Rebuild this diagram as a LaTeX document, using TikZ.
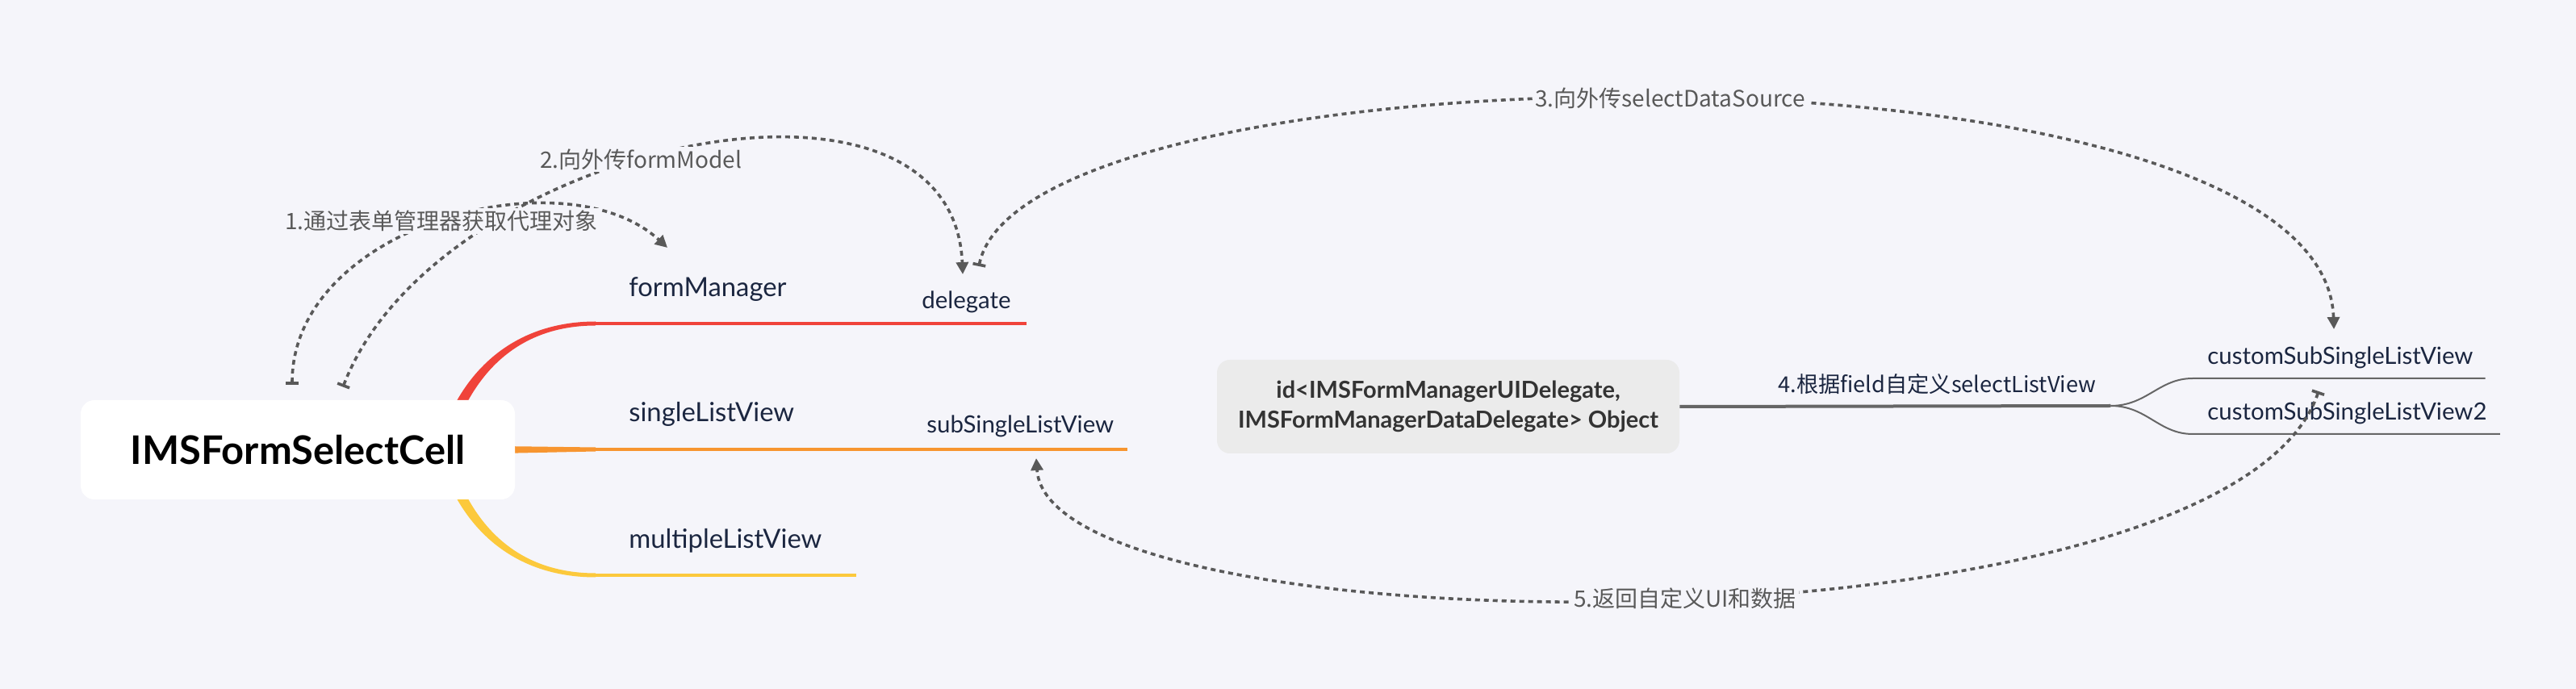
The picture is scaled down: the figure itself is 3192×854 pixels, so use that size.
\documentclass[tikz,border=0pt]{standalone}
\usepackage{fontspec}
\setmainfont{Lato}
\newfontfamily\cjk{Noto Sans CJK SC}
\usetikzlibrary{arrows.meta,calc,backgrounds}
\definecolor{PageBg}{HTML}{F5F5FA}
\definecolor{TopicInk}{HTML}{1B2640}
\definecolor{RelGray}{HTML}{595959}
\definecolor{BranchRed}{HTML}{F0433A}
\definecolor{BranchOrange}{HTML}{F7952F}
\definecolor{BranchYellow}{HTML}{FCC93C}
\definecolor{ObjFill}{HTML}{EBEBEB}
\definecolor{LinkGray}{HTML}{666666}

\begin{document}
\begin{tikzpicture}[
  x=0.5pt, y=-0.5pt,
  cell/.style={fill=white, rounded corners=8.5pt, minimum width=269pt, minimum height=61.5pt, font=\bfseries\fontsize{24.4}{28}\selectfont},
  topic/.style={anchor=base west, inner sep=0pt, text=TopicInk, font=\fontsize{16.4}{19}\selectfont},
  subtopic/.style={topic, font=\fontsize{14.7}{17}\selectfont},
  objbox/.style={fill=ObjFill, rounded corners=8pt, minimum width=286.5pt, minimum height=58pt, align=center, text=black!80, font=\bfseries\fontsize{14.5}{18.5}\selectfont},
  rel/.style={RelGray, line width=1.8pt, dash pattern=on 3pt off 2.5pt, {Bar[width=8pt]}-{Triangle[length=7.5pt,width=7.5pt]}},
  rellabel/.style={fill=PageBg, inner sep=1.5pt, text=RelGray, font=\cjk\fontsize{14}{16}\selectfont},
  link/.style={LinkGray, line width=1pt}
]
\useasboundingbox (0,0) rectangle (3192,854);

% topics
\node[cell] (cell) at (369,557.5) {IMSFormSelectCell};
\node[topic] (fm) at (779,368) {formManager};
\node[topic] (slv) at (779,523) {singleListView};
\node[topic] (mlv) at (779,680) {multipleListView};
\node[subtopic] (dlg) at (1142,383) {delegate};
\node[subtopic] (sub) at (1148,537) {subSingleListView};

\node[objbox] (obj) at (1794.5,504) {id<IMSFormManagerUIDelegate,\\IMSFormManagerDataDelegate> Object};
\node[subtopic, font=\cjk\fontsize{13.6}{16}\selectfont] (fld) at (2203,487) {4.根据field自定义selectListView};
\node[subtopic] (cs1) at (2735,452) {customSubSingleListView};
\node[subtopic] (cs2) at (2735,521) {customSubSingleListView2};

\coordinate (root) at ($(cell.east)+(-90,0)$);
\coordinate (fmL) at ($(fm.base west)+(-41,33)$);
\coordinate (slL) at ($(slv.base west)+(-41,34)$);
\coordinate (mlL) at ($(mlv.base west)+(-41,33)$);
\coordinate (dlgR) at ($(dlg.base east)+(19,18)$);
\coordinate (subR) at ($(sub.base east)+(16,20)$);
\coordinate (mlR) at ($(mlv.base east)+(42,33)$);
\coordinate (fork) at ($(obj.east)+(534,-1)$);
\coordinate (cs1L) at ($(cs1.base west)+(-18,17)$);
\coordinate (cs1R) at ($(cs1.base east)+(15,17)$);
\coordinate (cs2L) at ($(cs2.base west)+(-18,17)$);
\coordinate (cs2R) at ($(cs2.base east)+(16,17)$);

% branches
\begin{scope}[on background layer]
\fill[PageBg] (0,0) rectangle (3192,854);
\fill[BranchRed] ($(root)+(-7,0)$) .. controls ($(root)+(20,-99)$) and ($(fmL)+(-100,-2.5)$) .. ($(fmL)+(0,-2.5)$)
  -- ($(fmL)+(0,2.5)$) .. controls ($(fmL)+(-96,2.5)$) and ($(root)+(34,-95)$) .. ($(root)+(7,0)$) -- cycle;
\fill[BranchYellow] ($(root)+(-7,0)$) .. controls ($(root)+(20,99)$) and ($(mlL)+(-100,2.5)$) .. ($(mlL)+(0,2.5)$)
  -- ($(mlL)+(0,-2.5)$) .. controls ($(mlL)+(-96,-2.5)$) and ($(root)+(34,95)$) .. ($(root)+(7,0)$) -- cycle;
\fill[BranchOrange] ($(cell.east)+(-20,-4.5)$) -- ($(slL)+(0,-2.5)$) -- ($(slL)+(0,2.5)$) -- ($(cell.east)+(-20,4.5)$) -- cycle;
\draw[BranchRed, line width=2.2pt] (fmL) -- (dlgR);
\draw[BranchOrange, line width=2.2pt] (slL) -- (subR);
\draw[BranchYellow, line width=2.2pt] (mlL) -- (mlR);
\end{scope}

\draw[LinkGray, line width=2pt] (obj.east) -- (fork);
\draw[link] (fork) .. controls +(45,0) and +(-42,0) .. (cs1L) -- (cs1R);
\draw[link] (fork) .. controls +(45,0) and +(-42,0) .. (cs2L) -- (cs2R);

% relationships
\draw[rel] ($(cell.north)+(56,-16)$) .. controls +(115,-300) and +(-13,-300) .. ($(dlg.base west)+(51,-43)$)
  node[rellabel, pos=.45] {2.向外传formModel};
\draw[rel] ($(cell.north)+(-7,-19)$) .. controls +(0,-197) and +(-127,-117) .. ($(fm.base west)+(48,-61)$)
  node[rellabel, pos=.5] {1.通过表单管理器获取代理对象};
\draw[rel] ($(dlg.base west)+(71,-53)$) .. controls +(57,-280) and +(-12,-378) .. ($(cs1.base west)+(157,-44)$)
  node[rellabel, pos=.5] {3.向外传selectDataSource};
\draw[rel] ($(cs2.base west)+(138,-36)$) .. controls +(-113,335) and +(16,242) .. ($(sub.base west)+(136,31)$)
  node[rellabel, pos=.48] {5.返回自定义UI和数据};
\end{tikzpicture}
\end{document}
